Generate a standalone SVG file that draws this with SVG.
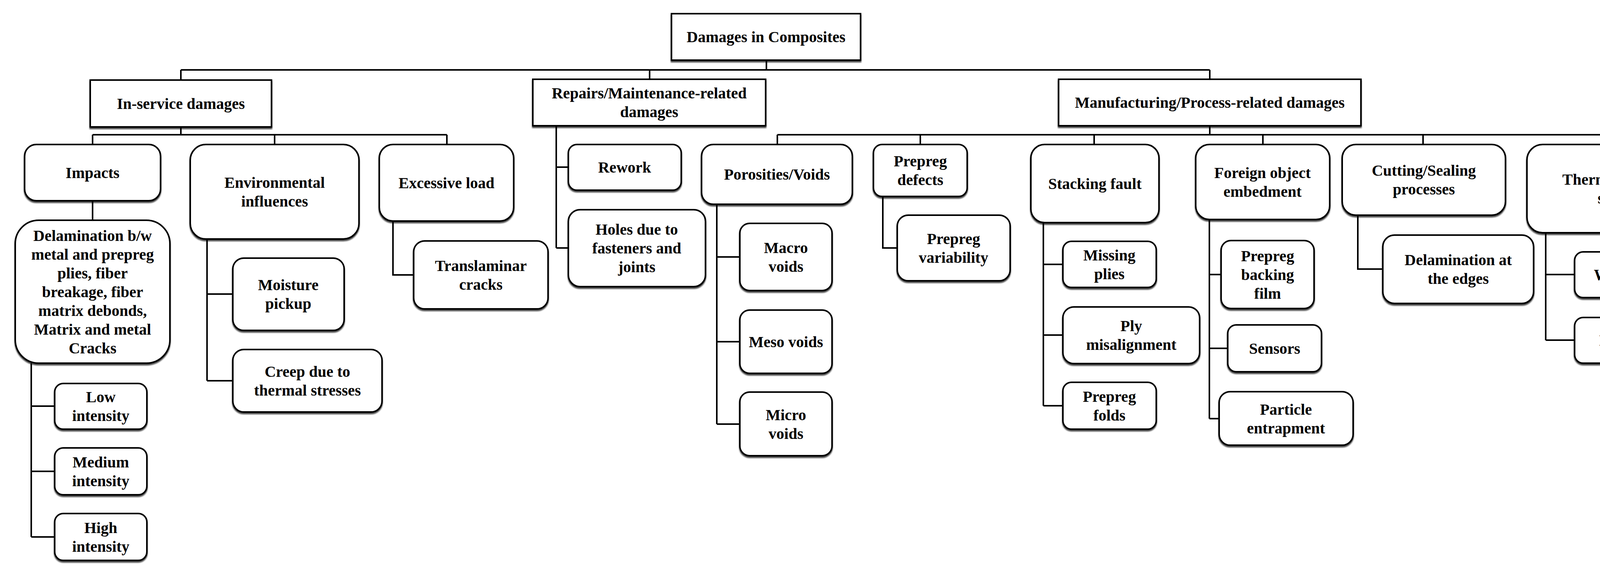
<svg xmlns="http://www.w3.org/2000/svg" width="4408" height="1475" viewBox="0 0 4408 1475">
<defs>
<style>
.b{fill:#fff;stroke:#000;stroke-width:4;filter:url(#sh)}
.c{fill:none;stroke:#000;stroke-width:4}
text{font-family:"Liberation Serif","Times New Roman",serif;font-size:40px;font-weight:bold;text-anchor:middle;fill:#000}
</style>
<filter id="sh" x="-5%" y="-5%" width="110%" height="115%"><feDropShadow dx="0" dy="4" stdDeviation="1.5" flood-color="#000" flood-opacity="0.7"/></filter>
</defs>
<rect width="4408" height="1475" fill="#fff"/>
<g id="connectors" class="c">
<path d="M1962,154V179M463,179H3097M463,179V205M1663,179V203M3097,179V203"/>
<path d="M463,325V345M237,345H1144M237,345V370M703,345V370M1144,345V370"/>
<path d="M237,514V564M80,930V1375M80,1040H140M80,1207H140M80,1375H140"/>
<path d="M530,612V975M530,753H596M530,975H596"/>
<path d="M1006,566V704H1059"/>
<path d="M1424,322V635M1424,428H1455M1424,635H1455"/>
<path d="M3097,322V345M1990,345H4154M1990,345V370M2356,345V370M2801,345V370M3233,345V370M3643,345V370M4154,345V370"/>
<path d="M1835,523V1086M1835,658H1894M1835,875H1894M1835,1086H1894"/>
<path d="M2260,503V635H2297"/>
<path d="M2671,570V1039M2671,677H2721M2671,858H2721M2671,1039H2721"/>
<path d="M3096,562V1072M3096,703H3126M3096,892H3143M3096,1072H3121"/>
<path d="M3476,551V689H3540"/>
<path d="M3957,596V871M3957,703H4031M3957,871H4031"/>
</g>
<g id="root"><rect class="b" x="1719" y="35" width="484" height="119"/><text x="1961" y="108">Damages in Composites</text></g>
<g id="inservice"><rect class="b" x="231" y="205" width="464" height="120"/><text x="463" y="279">In-service damages</text></g>
<g id="repairs"><rect class="b" x="1364" y="203" width="596" height="119"/><text x="1662" y="252">Repairs/Maintenance-related</text><text x="1662" y="300">damages</text></g>
<g id="manufacturing"><rect class="b" x="2710" y="203" width="774" height="119"/><text x="3097" y="276">Manufacturing/Process-related damages</text></g>
<g id="impacts"><rect class="b" x="63" y="370" width="348" height="144" rx="30"/><text x="237" y="456">Impacts</text></g>
<g id="environmental"><rect class="b" x="487" y="370" width="432" height="242" rx="40"/><text x="703" y="481">Environmental</text><text x="703" y="529">influences</text></g>
<g id="excessive"><rect class="b" x="971" y="370" width="344" height="196" rx="35"/><text x="1143" y="482">Excessive load</text></g>
<g id="delamination"><rect class="b" x="39" y="564" width="396" height="366" rx="60"/><text x="237" y="617">Delamination b/w</text><text x="237" y="665">metal and prepreg</text><text x="237" y="713">plies, fiber</text><text x="237" y="761">breakage, fiber</text><text x="237" y="809">matrix debonds,</text><text x="237" y="857">Matrix and metal</text><text x="237" y="905">Cracks</text></g>
<g id="low"><rect class="b" x="140" y="982" width="236" height="117" rx="22"/><text x="258" y="1030">Low</text><text x="258" y="1078">intensity</text></g>
<g id="medium"><rect class="b" x="140" y="1147" width="236" height="120" rx="22"/><text x="258" y="1197">Medium</text><text x="258" y="1245">intensity</text></g>
<g id="high"><rect class="b" x="140" y="1315" width="236" height="120" rx="22"/><text x="258" y="1365">High</text><text x="258" y="1413">intensity</text></g>
<g id="moisture"><rect class="b" x="596" y="661" width="285" height="185" rx="28"/><text x="738" y="743">Moisture</text><text x="738" y="791">pickup</text></g>
<g id="creep"><rect class="b" x="596" y="895" width="382" height="160" rx="28"/><text x="787" y="965">Creep due to</text><text x="787" y="1013">thermal stresses</text></g>
<g id="translaminar"><rect class="b" x="1059" y="617" width="344" height="174" rx="28"/><text x="1231" y="694">Translaminar</text><text x="1231" y="742">cracks</text></g>
<g id="rework"><rect class="b" x="1455" y="370" width="289" height="117" rx="22"/><text x="1599" y="442">Rework</text></g>
<g id="holes"><rect class="b" x="1455" y="537" width="351" height="197" rx="30"/><text x="1630" y="601">Holes due to</text><text x="1630" y="649">fasteners and</text><text x="1630" y="697">joints</text></g>
<g id="porosities"><rect class="b" x="1796" y="370" width="386" height="153" rx="30"/><text x="1989" y="460">Porosities/Voids</text></g>
<g id="macro"><rect class="b" x="1894" y="572" width="236" height="172" rx="25"/><text x="2012" y="648">Macro</text><text x="2012" y="696">voids</text></g>
<g id="meso"><rect class="b" x="1894" y="794" width="236" height="162" rx="25"/><text x="2012" y="889">Meso voids</text></g>
<g id="micro"><rect class="b" x="1894" y="1004" width="236" height="163" rx="25"/><text x="2012" y="1076">Micro</text><text x="2012" y="1124">voids</text></g>
<g id="prepregdefects"><rect class="b" x="2236" y="370" width="240" height="133" rx="22"/><text x="2356" y="426">Prepreg</text><text x="2356" y="474">defects</text></g>
<g id="prepregvariability"><rect class="b" x="2297" y="551" width="289" height="168" rx="28"/><text x="2441" y="625">Prepreg</text><text x="2441" y="673">variability</text></g>
<g id="stacking"><rect class="b" x="2639" y="370" width="328" height="200" rx="35"/><text x="2803" y="484">Stacking fault</text></g>
<g id="missing"><rect class="b" x="2721" y="618" width="239" height="118" rx="22"/><text x="2840" y="667">Missing</text><text x="2840" y="715">plies</text></g>
<g id="plymis"><rect class="b" x="2721" y="786" width="350" height="145" rx="28"/><text x="2896" y="848">Ply</text><text x="2896" y="896">misalignment</text></g>
<g id="folds"><rect class="b" x="2721" y="979" width="239" height="120" rx="22"/><text x="2840" y="1029">Prepreg</text><text x="2840" y="1077">folds</text></g>
<g id="foreign"><rect class="b" x="3061" y="370" width="343" height="192" rx="35"/><text x="3232" y="456">Foreign object</text><text x="3232" y="504">embedment</text></g>
<g id="backing"><rect class="b" x="3126" y="616" width="238" height="174" rx="25"/><text x="3245" y="669">Prepreg</text><text x="3245" y="717">backing</text><text x="3245" y="765">film</text></g>
<g id="sensors"><rect class="b" x="3143" y="832" width="240" height="120" rx="22"/><text x="3263" y="906">Sensors</text></g>
<g id="particle"><rect class="b" x="3121" y="1003" width="343" height="137" rx="28"/><text x="3292" y="1062">Particle</text><text x="3292" y="1110">entrapment</text></g>
<g id="cutting"><rect class="b" x="3436" y="370" width="418" height="181" rx="35"/><text x="3645" y="450">Cutting/Sealing</text><text x="3645" y="498">processes</text></g>
<g id="edges"><rect class="b" x="3540" y="602" width="386" height="175" rx="30"/><text x="3733" y="679">Delamination at</text><text x="3733" y="727">the edges</text></g>
<g id="thermal"><rect class="b" x="3909" y="370" width="491" height="226" rx="40"/><text x="4154" y="473">Thermal/Residual</text><text x="4154" y="521">stresses</text></g>
<g id="wrinkle"><rect class="b" x="4031" y="645" width="240" height="117" rx="22"/><text x="4151" y="717">Wrinkle</text></g>
<g id="blister"><rect class="b" x="4031" y="813" width="240" height="117" rx="22"/><text x="4151" y="885">Blister</text></g>
</svg>
